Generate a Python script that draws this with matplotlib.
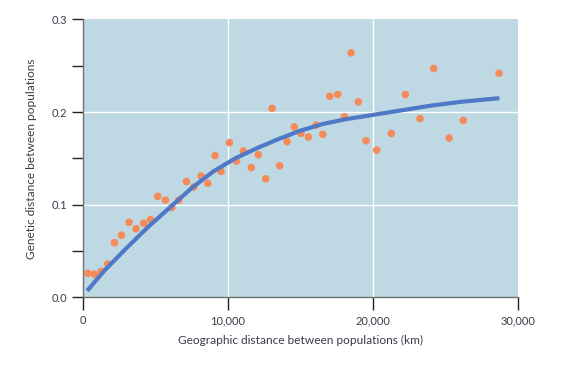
import matplotlib
matplotlib.use("Agg")
import matplotlib.pyplot as plt
from matplotlib.ticker import MultipleLocator, FuncFormatter

# observed population pairs: geographic distance (km), genetic distance
geo_km = [340, 800, 1260, 1720, 2180, 2660, 3190, 3670, 4200, 4660,
          5160, 5690, 6130, 6610, 7140, 7640, 8150, 8610, 9110, 9520,
          10100, 10580, 11060, 11610, 12090, 12600, 13040, 13560, 14070, 14570,
          15030, 15540, 16070, 16530, 17010, 17560, 18020, 18480, 18980, 19510,
          20250, 21250, 22220, 23230, 24170, 25230, 26210, 28670]
gen_dist = [0.026, 0.025, 0.028, 0.036, 0.059, 0.067, 0.081, 0.074, 0.080, 0.084,
            0.109, 0.105, 0.097, 0.105, 0.125, 0.119, 0.131, 0.123, 0.153, 0.136,
            0.167, 0.147, 0.158, 0.140, 0.154, 0.128, 0.204, 0.142, 0.168, 0.184,
            0.177, 0.173, 0.186, 0.176, 0.217, 0.219, 0.195, 0.264, 0.211, 0.169,
            0.159, 0.177, 0.219, 0.193, 0.247, 0.172, 0.191, 0.242]

# fitted trend
fit_km = [300, 1500, 3000, 4500, 6000, 7500, 9000, 10500, 12000, 13500,
          15000, 16500, 18000, 20000, 22000, 24000, 26000, 28700]
fit_dist = [0.007, 0.029, 0.053, 0.076, 0.097, 0.118, 0.136, 0.150, 0.161, 0.171,
            0.180, 0.187, 0.192, 0.197, 0.202, 0.207, 0.211, 0.215]

text_col = "#3a3a4a"
font = "Lato"

fig = plt.figure(figsize=(5.87, 3.74), dpi=100)
ax = fig.add_axes([0.141, 0.205, 0.742, 0.743])
ax.set_facecolor("#bed9e4")

ax.set_xlim(0, 30000)
ax.set_ylim(0, 0.3)

for gx in [10000, 20000]:
    ax.axvline(gx, color="white", lw=1.0, zorder=1)
for gy in [0.1, 0.2]:
    ax.axhline(gy, color="white", lw=1.0, zorder=1)

ax.scatter(geo_km, gen_dist, s=30, color="#f58a5a", edgecolors="none", zorder=3)
ax.plot(fit_km, fit_dist, color="#4f79c6", lw=3.0, solid_capstyle="butt", zorder=4)

ax.xaxis.set_major_locator(MultipleLocator(10000))
ax.yaxis.set_major_locator(MultipleLocator(0.1))
ax.yaxis.set_minor_locator(MultipleLocator(0.05))
ax.xaxis.set_major_formatter(FuncFormatter(lambda v, p: f"{int(v):,}"))
ax.yaxis.set_major_formatter(FuncFormatter(lambda v, p: f"{v:.1f}"))

for s in ["top", "right"]:
    ax.spines[s].set_visible(False)
for s in ["left", "bottom"]:
    ax.spines[s].set_color("#707070")
    ax.spines[s].set_linewidth(1.0)

ax.tick_params(axis="both", which="both", direction="out", color="#222222",
               width=1.0, labelsize=8, labelcolor=text_col)
ax.tick_params(axis="y", which="both", length=8, pad=3)
ax.tick_params(axis="x", which="major", length=9, pad=4)

ax.set_xlabel("Geographic distance between populations (km)", fontsize=8.6,
              color=text_col, family=font, labelpad=6)
ax.set_ylabel("Genetic distance between populations", fontsize=8.6,
              color=text_col, family=font, labelpad=11)
for lab in ax.get_xticklabels() + ax.get_yticklabels():
    lab.set_family(font)

fig.savefig("out.png", dpi=100)
